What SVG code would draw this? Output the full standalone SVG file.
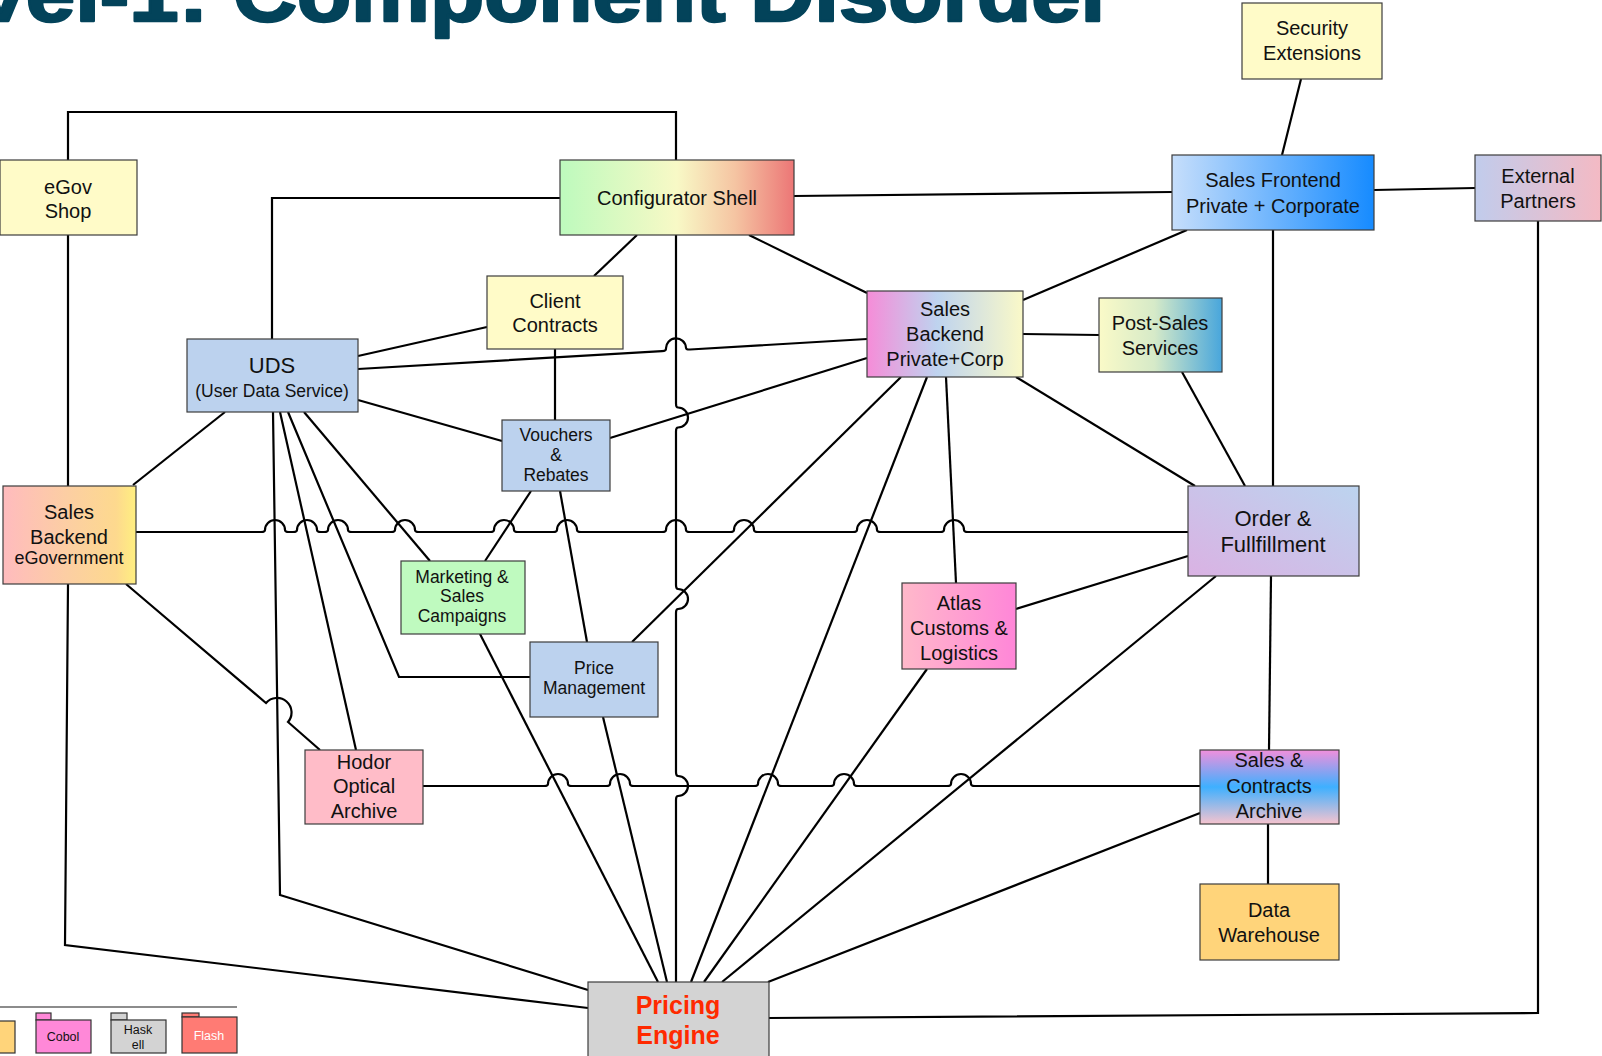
<svg xmlns="http://www.w3.org/2000/svg" width="1602" height="1056" viewBox="0 0 1602 1056">
<style>
.n rect{stroke:#3c3c3c;stroke-width:1.2}
.t{font-family:"Liberation Sans",Arial,sans-serif;font-size:20px;fill:#111;text-anchor:middle}
.s17{font-size:17.5px}
.s18{font-size:18px}
.s22{font-size:22px}
.pe{font-family:"Liberation Sans",Arial,sans-serif;font-size:25px;font-weight:bold;fill:#FF2A00;text-anchor:middle}
#connectors path{fill:none;stroke:#000;stroke-width:2.2;stroke-linejoin:miter}
.title{font-family:"Liberation Sans",Arial,sans-serif;font-size:80px;font-weight:bold;fill:#03435A;stroke:#03435A;stroke-width:2.5;stroke-linejoin:round}
.lg rect{stroke:#333;stroke-width:1.2}
.lt{font-family:"Liberation Sans",Arial,sans-serif;font-size:12.5px;fill:#111;text-anchor:middle}
</style>
<defs>
<linearGradient id="gConf" x1="0" y1="0" x2="1" y2="0"><stop offset="0" stop-color="#BDFABD"/><stop offset="0.5" stop-color="#F8F9C6"/><stop offset="0.75" stop-color="#F5C4A2"/><stop offset="1" stop-color="#EC7676"/></linearGradient>
<linearGradient id="gSF" x1="0" y1="0" x2="1" y2="0"><stop offset="0" stop-color="#C6DEFB"/><stop offset="1" stop-color="#168BFF"/></linearGradient>
<linearGradient id="gEP" x1="0" y1="0" x2="1" y2="0"><stop offset="0" stop-color="#C1CCEC"/><stop offset="1" stop-color="#F4BAC4"/></linearGradient>
<linearGradient id="gSBPC" x1="0" y1="0" x2="1" y2="0"><stop offset="0" stop-color="#F68CD8"/><stop offset="0.45" stop-color="#BED3EF"/><stop offset="1" stop-color="#FAF9C8"/></linearGradient>
<linearGradient id="gPS" x1="0" y1="0" x2="1" y2="0"><stop offset="0" stop-color="#FAFAC8"/><stop offset="0.45" stop-color="#D6EAC8"/><stop offset="1" stop-color="#48A6DC"/></linearGradient>
<linearGradient id="gSBE" x1="0" y1="0" x2="1" y2="0"><stop offset="0" stop-color="#FFBBBE"/><stop offset="0.5" stop-color="#FCCFA2"/><stop offset="0.85" stop-color="#FDD98E"/><stop offset="1" stop-color="#FFEF80"/></linearGradient>
<linearGradient id="gOF" x1="1" y1="0" x2="0" y2="1"><stop offset="0" stop-color="#BCD4EF"/><stop offset="1" stop-color="#DAB2E3"/></linearGradient>
<linearGradient id="gAT" x1="0" y1="0" x2="1" y2="0"><stop offset="0" stop-color="#FFB9CA"/><stop offset="1" stop-color="#FF86D8"/></linearGradient>
<linearGradient id="gSCA" x1="0" y1="0" x2="0" y2="1"><stop offset="0" stop-color="#F28FDC"/><stop offset="0.5" stop-color="#3EB0FF"/><stop offset="1" stop-color="#F7C3CE"/></linearGradient>
</defs>
<rect width="1602" height="1056" fill="#fff"/>
<g id="title"><text class="title" x="-127" y="21" textLength="1242" lengthAdjust="spacingAndGlyphs">Level-1: Component Disorder</text></g>

<g id="connectors">
<path d="M68,160 V112 H676 V160"/>
<path d="M560,198 H272 V339"/>
<path d="M794,196 L1172,192"/>
<path d="M1301,79 L1282,155"/>
<path d="M1374,190 L1475,188"/>
<path d="M1538,221 V1013 L769,1018"/>
<path d="M1273,230 V486"/>
<path d="M1187,230 L1023,300"/>
<path d="M749,235 L867,293"/>
<path d="M637,235 L594,276"/>
<path d="M676,235 V403.5 Q676,407.5 678,407.5 A10 10 0 0 1 678,427.5 Q676,427.5 676,431.5 V585 Q676,589 678,589 A10 10 0 0 1 678,609 Q676,609 676,613 V772 Q676,776 678,776 A10 10 0 0 1 678,796 Q676,796 676,800 V982"/>
<path d="M358,356 L487,327"/>
<path d="M358,369 L662,351.1 Q666,350.9 666,348.9 A10 10 0 0 1 686,347.7 Q686,349.7 690,349.5 L867,339"/>
<path d="M358,400 L502,441"/>
<path d="M555,349 V420"/>
<path d="M610,438 L867,358"/>
<path d="M225,412 L133,485"/>
<path d="M68,235 V486"/>
<path d="M68,584 L65,945 L588,1008"/>
<path d="M273,412 L280,895 L588,990"/>
<path d="M280,412 L356,750"/>
<path d="M288,412 L399,677 H530"/>
<path d="M304,412 L430,561"/>
<path d="M136,532 H261 Q265,532 265,530 A10 10 0 0 1 285,530 Q285,532 289,532 H293 Q297,532 297,530 A10 10 0 0 1 317,530 Q317,532 321,532 H324 Q328,532 328,530 A10 10 0 0 1 348,530 Q348,532 352,532 H391 Q395,532 395,530 A10 10 0 0 1 415,530 Q415,532 419,532 H490 Q494,532 494,530 A10 10 0 0 1 514,530 Q514,532 518,532 H553 Q557,532 557,530 A10 10 0 0 1 577,530 Q577,532 581,532 H662 Q666,532 666,530 A10 10 0 0 1 686,530 Q686,532 690,532 H730 Q734,532 734,530 A10 10 0 0 1 754,530 Q754,532 758,532 H853 Q857,532 857,530 A10 10 0 0 1 877,530 Q877,532 881,532 H940 Q944,532 944,530 A10 10 0 0 1 964,530 Q964,532 968,532 H1188"/>
<path d="M531,491 L485,561"/>
<path d="M560,491 L587,642"/>
<path d="M480,634 L658,982"/>
<path d="M603,717 L667,982"/>
<path d="M126,584 L266,703 A14 14 0 0 1 288,722 L320,750"/>
<path d="M423,786 H544 Q548,786 548,784 A10 10 0 0 1 568,784 Q568,786 572,786 H606 Q610,786 610,784 A10 10 0 0 1 630,784 Q630,786 634,786 H754 Q758,786 758,784 A10 10 0 0 1 778,784 Q778,786 782,786 H830 Q834,786 834,784 A10 10 0 0 1 854,784 Q854,786 858,786 H947 Q951,786 951,784 A10 10 0 0 1 971,784 Q971,786 975,786 H1200"/>
<path d="M1200,813 L768,982"/>
<path d="M1268,824 V884"/>
<path d="M1271,576 L1269,750"/>
<path d="M1188,556 L1016,609"/>
<path d="M1016,377 L1195,486"/>
<path d="M1182,372 L1245,486"/>
<path d="M1023,334 L1099,335"/>
<path d="M901,377 L632,642"/>
<path d="M927,377 L691,982"/>
<path d="M946,377 L956,583"/>
<path d="M927,669 L704,982"/>
<path d="M1216,576 L722,982"/>
</g>

<g id="security-extensions" class="n"><rect x="1242" y="3" width="140" height="76" fill="#FFFBC8"/><text class="t" x="1312" y="35">Security</text><text class="t" x="1312" y="60">Extensions</text></g>
<g id="egov-shop" class="n"><rect x="0" y="160" width="137" height="75" fill="#FFFBC8"/><text class="t" x="68" y="194">eGov</text><text class="t" x="68" y="218">Shop</text></g>
<g id="configurator-shell" class="n"><rect x="560" y="160" width="234" height="75" fill="url(#gConf)"/><text class="t" x="677" y="205">Configurator Shell</text></g>
<g id="sales-frontend" class="n"><rect x="1172" y="155" width="202" height="75" fill="url(#gSF)"/><text class="t" x="1273" y="187">Sales Frontend</text><text class="t" x="1273" y="213">Private + Corporate</text></g>
<g id="external-partners" class="n"><rect x="1475" y="155" width="126" height="66" fill="url(#gEP)"/><text class="t" x="1538" y="183">External</text><text class="t" x="1538" y="208">Partners</text></g>
<g id="client-contracts" class="n"><rect x="487" y="276" width="136" height="73" fill="#FFFBC8"/><text class="t" x="555" y="308">Client</text><text class="t" x="555" y="332">Contracts</text></g>
<g id="uds" class="n"><rect x="187" y="339" width="171" height="73" fill="#BCD2EE"/><text class="t s22" x="272" y="373">UDS</text><text class="t s17" x="272" y="397">(User Data Service)</text></g>
<g id="vouchers-rebates" class="n"><rect x="502" y="420" width="108" height="71" fill="#BCD2EE"/><text class="t s17" x="556" y="441">Vouchers</text><text class="t s17" x="556" y="461">&amp;</text><text class="t s17" x="556" y="481">Rebates</text></g>
<g id="sales-backend-egov" class="n"><rect x="3" y="486" width="133" height="98" fill="url(#gSBE)"/><text class="t" x="69" y="519">Sales</text><text class="t" x="69" y="544">Backend</text><text class="t s18" x="69" y="564">eGovernment</text></g>
<g id="marketing-sales-campaigns" class="n"><rect x="401" y="561" width="124" height="73" fill="#BFFABF"/><text class="t s17" x="462" y="583">Marketing &amp;</text><text class="t s17" x="462" y="602">Sales</text><text class="t s17" x="462" y="622">Campaigns</text></g>
<g id="price-management" class="n"><rect x="530" y="642" width="128" height="75" fill="#BCD2EE"/><text class="t s17" x="594" y="674">Price</text><text class="t s17" x="594" y="694">Management</text></g>
<g id="sales-backend-private-corp" class="n"><rect x="867" y="291" width="156" height="86" fill="url(#gSBPC)"/><text class="t" x="945" y="316">Sales</text><text class="t" x="945" y="341">Backend</text><text class="t" x="945" y="366">Private+Corp</text></g>
<g id="post-sales-services" class="n"><rect x="1099" y="298" width="123" height="74" fill="url(#gPS)"/><text class="t" x="1160" y="330">Post-Sales</text><text class="t" x="1160" y="355">Services</text></g>
<g id="order-fullfillment" class="n"><rect x="1188" y="486" width="171" height="90" fill="url(#gOF)"/><text class="t s22" x="1273" y="526">Order &amp;</text><text class="t s22" x="1273" y="552">Fullfillment</text></g>
<g id="atlas" class="n"><rect x="902" y="583" width="114" height="86" fill="url(#gAT)"/><text class="t" x="959" y="610">Atlas</text><text class="t" x="959" y="635">Customs &amp;</text><text class="t" x="959" y="660">Logistics</text></g>
<g id="hodor" class="n"><rect x="305" y="750" width="118" height="74" fill="#FFBCC8"/><text class="t" x="364" y="769">Hodor</text><text class="t" x="364" y="793">Optical</text><text class="t" x="364" y="818">Archive</text></g>
<g id="sales-contracts-archive" class="n"><rect x="1200" y="750" width="139" height="74" fill="url(#gSCA)"/><text class="t" x="1269" y="767">Sales &amp;</text><text class="t" x="1269" y="793">Contracts</text><text class="t" x="1269" y="818">Archive</text></g>
<g id="data-warehouse" class="n"><rect x="1200" y="884" width="139" height="76" fill="#FFD47A"/><text class="t" x="1269" y="917">Data</text><text class="t" x="1269" y="942">Warehouse</text></g>
<g id="pricing-engine" class="n"><rect x="588" y="982" width="181" height="80" fill="#D3D3D3"/><text class="pe" x="678" y="1014">Pricing</text><text class="pe" x="678" y="1044">Engine</text></g>

<g id="legend" class="lg">
<path d="M0,1007 H237" stroke="#666" stroke-width="1.5" fill="none"/>
<rect x="-40" y="1021" width="55" height="32" fill="#FFD47A"/>
<rect x="36" y="1013" width="15" height="7" fill="#FF88D8"/><rect x="36" y="1020" width="55" height="33" fill="#FF88D8"/><text class="lt" x="63" y="1041">Cobol</text>
<rect x="111" y="1013" width="16" height="7" fill="#D3D3D3"/><rect x="111" y="1020" width="55" height="33" fill="#D3D3D3"/><text class="lt" x="138" y="1034">Hask</text><text class="lt" x="138" y="1049">ell</text>
<rect x="182" y="1013" width="17" height="4" fill="#FF7B74"/><rect x="182" y="1017" width="55" height="36" fill="#FF7B74"/><text class="lt" x="209" y="1040" style="fill:#fff">Flash</text>
</g>
</svg>
